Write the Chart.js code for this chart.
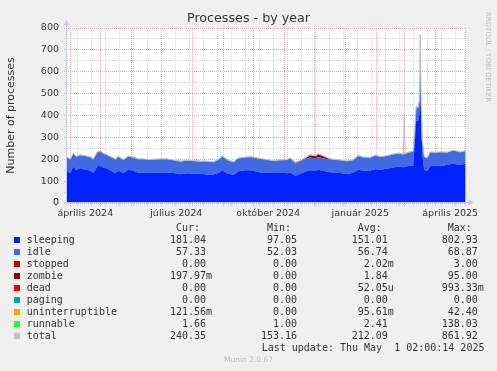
<!DOCTYPE html>
<html><head><meta charset="utf-8">
<script src="https://cdn.jsdelivr.net/npm/chart.js@4/dist/chart.umd.min.js"></script>
<style>
body{margin:0;background:#f0f0f0;}
#wrap{position:relative;width:497px;height:371px;overflow:hidden;background:#f0f0f0;}
canvas{position:absolute;left:0;top:0;}
.t{position:absolute;white-space:pre;font-family:'DejaVu Sans Mono',monospace;font-size:10px;line-height:12px;color:#333;}
.sq{position:absolute;width:6px;height:6px;}
.side{position:absolute;left:484px;top:12px;writing-mode:vertical-rl;font-family:'DejaVu Sans';font-size:7px;line-height:8px;color:#bbb;white-space:pre;}
.munin{position:absolute;left:0;width:497px;top:355px;text-align:center;font-family:'DejaVu Sans';font-size:7.5px;line-height:10px;color:#bbb;}
</style></head><body>
<div id="wrap"><canvas id="c" width="497" height="371"></canvas></div>
<script>
// ---- data (x = days since 2024-04-01) ----
const sampleDay = [-5,0,3,6,10,15,20,23,27,30,33,37,40,45,48,53,58,63,68,73,78,83,90,97,103,110,117,123,130,137,143,148,152,157,163,168,175,180,183,190,197,203,210,217,220,225,230,235,240,245,248,253,258,263,270,277,283,288,293,300,305,310,317,323,328,333,334,335,340,343,346,348,349,350,351,352,354,357,360,365,370,377,383,390,396];
const sleeping = [152,137,167,150,160,152,149,137,167,172,162,158,149,137,149,137,152,148,138,140,140,138,140,140,137,132,136,134,134,130,130,137,150,135,128,145,150,150,148,140,140,137,138,136,140,125,134,143,150,148,152,147,142,140,137,133,138,152,148,147,156,152,158,162,167,164,165,166,170,172,378,376,400,600,380,230,152,145,170,172,168,175,180,174,181];
const idle     = [62,62,58,62,58,62,60,63,62,60,62,60,62,62,60,60,60,60,62,58,57,60,58,60,58,58,58,58,56,60,56,58,62,60,58,58,58,60,58,58,57,55,58,58,60,56,56,58,58,56,58,56,58,58,58,58,58,62,60,60,60,59,57,60,58,58,58,58,62,62,60,58,60,60,58,58,58,60,62,58,64,56,60,58,57];
const zombie   = [0,0,0,0,0,0,0,0,2,4,2,0,0,0,2,0,0,0,0,2,0,0,2,0,0,0,0,0,0,0,0,2,0,2,0,0,0,0,2,3,0,0,0,3,4,3,2,4,10,10,12,11,4,0,0,0,0,0,0,0,0,0,0,0,0,0,0,0,0,0,0,0,0,0,0,0,0,0,0,0,0,0,0,0,0];
const runnable = [2,2,2,2,2,3,2,2,3,3,2,2,2,2,2,2,3,2,2,2,2,2,2,2,2,2,2,2,2,2,2,2,4,2,2,3,2,2,2,2,2,2,2,2,3,2,2,2,3,2,3,2,2,2,2,2,2,4,3,2,3,2,2,3,3,3,3,3,3,3,4,4,5,8,4,3,2,2,2,2,2,2,2,2,2];
const total    = [216,201,227,214,220,217,211,202,234,239,228,220,213,201,213,199,215,210,202,202,199,200,202,202,197,192,196,194,192,192,188,199,216,199,188,206,210,212,210,203,199,194,198,199,207,186,194,207,221,216,225,216,206,200,197,193,198,218,211,209,219,213,217,225,228,225,403,227,235,237,442,438,470,770,442,291,212,207,234,232,234,233,242,234,240];

// ---- axis ticks ----
const monthStarts = ['2024-04-01','2024-05-01','2024-06-01','2024-07-01','2024-08-01','2024-09-01','2024-10-01','2024-11-01','2024-12-01','2025-01-01','2025-02-01','2025-03-01','2025-04-01','2025-05-01'];
const minorStart = '2024-04-08';
const labelDates = ['2024-04-16','2024-07-16','2024-10-16','2025-01-16','2025-04-16'];
const xLabels = ['április 2024','július 2024','október 2024','január 2025','április 2025'];
const yMax = 800, yStep = 50, yLabelStep = 100;

// ---- legend table ----
const legendNames = ['sleeping','idle','stopped','zombie','dead','paging','uninterruptible','runnable','total'];
const legendCur = ['181.04','57.33','0.00','197.97m','0.00','0.00','121.56m','1.66','240.35'];
const legendMin = ['97.05','52.03','0.00','0.00','0.00','0.00','0.00','1.00','153.16'];
const legendAvg = ['151.01','56.74','2.02m','1.84','52.05u','0.00','95.61m','2.41','212.09'];
const legendMax = ['802.93','68.87','3.00','95.00','993.33m','0.00','42.40','138.03','861.92'];
const lastUpdate = 'Last update: Thu May  1 02:00:14 2025';

const seriesColors = {sleeping:'#0022ff',idle:'#4169e1',stopped:'#cc0000',zombie:'#990000',dead:'#ff0000',paging:'#00aaaa',uninterruptible:'#ffa500',runnable:'#22ff22',total:'#c0c0c0'};

// ---- helpers ----
const base = Date.UTC(2024,3,1);
const dayOf = s => { const [y,m,d] = s.split('-').map(Number); return Math.round((Date.UTC(y,m-1,d)-base)/86400000); };
const X_MIN = -4.3, X_MAX = 395.3;
const tickInfo = new Map();
for (let d = dayOf(minorStart); d < X_MAX; d += 14) tickInfo.set(d, {kind:'minor', label:''});
monthStarts.forEach(s => tickInfo.set(dayOf(s), {kind:'major', label:''}));
labelDates.forEach((s,i) => tickInfo.set(dayOf(s), {kind:'label', label:xLabels[i]}));
const xTickValues = [...tickInfo.keys()].filter(v => v >= X_MIN && v <= X_MAX).sort((a,b)=>a-b);

const MAJOR = 'rgba(222,79,79,0.45)', MINOR = 'rgba(143,143,143,0.35)', AXIS = '#c4c8f6';
const pts = arr => sampleDay.map((d,i) => ({x:d, y:arr[i]}));
const area = (name, arr, fill) => ({label:name, data:pts(arr), backgroundColor:seriesColors[name], borderColor:'rgba(0,0,0,0)', borderWidth:1, pointRadius:0, fill, stack:'s', tension:0});

Chart.defaults.font.family = 'DejaVu Sans';
const plug = {
  id:'rrd',
  beforeDraw(chart){ const a = chart.chartArea, c = chart.ctx; c.save(); c.fillStyle='#ffffff'; c.fillRect(a.left,a.top,a.right-a.left,a.bottom-a.top); c.restore(); },
  afterDraw(chart){
    const a = chart.chartArea, c = chart.ctx; c.save();
    c.strokeStyle = AXIS; c.fillStyle = AXIS; c.lineWidth = 1;
    const ax = Math.round(a.left)+0.5, ay = Math.round(a.bottom)-0.5;
    c.beginPath(); c.moveTo(ax, ay+2); c.lineTo(ax, a.top-4); c.stroke();
    c.beginPath(); c.moveTo(ax-3, a.top-3); c.lineTo(ax+3, a.top-3); c.lineTo(ax, a.top-8); c.closePath(); c.fill();
    c.beginPath(); c.moveTo(ax-2, ay); c.lineTo(a.right+4, ay); c.stroke();
    c.beginPath(); c.moveTo(a.right+3, ay-3); c.lineTo(a.right+3, ay+3); c.lineTo(a.right+8, ay); c.closePath(); c.fill();
    c.restore();
  }
};

new Chart(document.getElementById('c'), {
  type:'line',
  data:{datasets:[
    area('sleeping', sleeping, 'origin'),
    area('idle', idle, '-1'),
    area('zombie', zombie, '-1'),
    area('runnable', runnable, '-1'),
    {label:'total', data:pts(total), borderColor:seriesColors.total, borderWidth:1, pointRadius:0, fill:false, stack:'t', order:-1, tension:0}
  ]},
  options:{
    responsive:false, animation:false, devicePixelRatio:1,
    layout:{padding:{top:0,left:0,right:0,bottom:148}},
    plugins:{
      legend:{display:false}, tooltip:{enabled:false},
      title:{display:true, text:'Processes - by year', color:'#333', font:{size:12.7, weight:'normal', lineHeight:1.2}, padding:{top:11.5,bottom:1.26}}
    },
    scales:{
      x:{type:'linear', min:X_MIN, max:X_MAX, z:1,
        afterBuildTicks: s => { s.ticks = xTickValues.map(v => ({value:v})); },
        afterFit: s => { s.height = 20; },
        ticks:{autoSkip:false, maxRotation:0, minRotation:0, padding:2, color:'#333', font:{size:9.5},
          callback: v => (tickInfo.get(v) || {label:''}).label},
        grid:{tickLength:3, lineWidth:1, tickBorderDash:[1,1],
          color: ctx => { const k = ctx.tick && tickInfo.get(ctx.tick.value); return !k || k.kind==='label' ? 'rgba(0,0,0,0)' : (k.kind==='major'?MAJOR:MINOR); }},
        border:{display:false, dash:[1,1]}
      },
      y:{type:'linear', stacked:true, min:0, max:yMax, z:1,
        afterFit: s => { s.width = 66; },
        title:{display:true, text:'Number of processes', color:'#333', font:{size:11, lineHeight:1.2}, padding:{top:4.4,bottom:0}},
        ticks:{stepSize:yStep, autoSkip:false, padding:5, color:'#333', font:{size:9.5},
          callback: v => v % yLabelStep === 0 ? String(v) : ''},
        grid:{tickLength:2, lineWidth:1, tickBorderDash:[1,1],
          color: ctx => ctx.tick && ctx.tick.value % yLabelStep === 0 ? MAJOR : MINOR},
        border:{display:false, dash:[1,1]}
      },
      yr:{type:'linear', position:'right', display:true, min:0, max:yMax,
        afterFit: s => { s.width = 31.5; },
        ticks:{display:false}, grid:{display:false, drawTicks:false}, border:{display:false}
      }
    }
  },
  plugins:[plug]
});

// ---- legend (text) ----
const wrap = document.getElementById('wrap');
const addText = (cls, txt, left, top) => { const d = document.createElement('div'); d.className = cls; d.textContent = txt; d.style.left = left+'px'; d.style.top = top+'px'; wrap.appendChild(d); return d; };
const fmt = s => { const u = /[a-z]$/i.test(s) ? s.slice(-1) : ' '; const n = u === ' ' ? s : s.slice(0,-1); return n.padStart(6) + u; };
const colX = [170, 261, 351.7, 441.7];
const headers = ['Cur:','Min:','Avg:','Max:'];
const hdrC = 227.7;
headers.forEach((h,i) => addText('t', h, colX[i]+6, hdrC-6));
legendNames.forEach((name, i) => {
  const cy = 239.7 + 12*i;
  const sq = document.createElement('div'); sq.className='sq'; sq.style.left='14px'; sq.style.top=(cy-3)+'px'; sq.style.background=seriesColors[name]; wrap.appendChild(sq);
  addText('t', name, 26.7, cy-6);
  [legendCur, legendMin, legendAvg, legendMax].forEach((col, j) => addText('t', fmt(col[i]), colX[j], cy-6));
});
addText('t', lastUpdate, 261.7, 347.7-6);
const side = document.createElement('div'); side.className='side'; side.textContent='RRDTOOL / TOBI OETIKER'; wrap.appendChild(side);
const mun = document.createElement('div'); mun.className='munin'; mun.textContent='Munin 2.0.67'; wrap.appendChild(mun);
</script>
</body></html>
